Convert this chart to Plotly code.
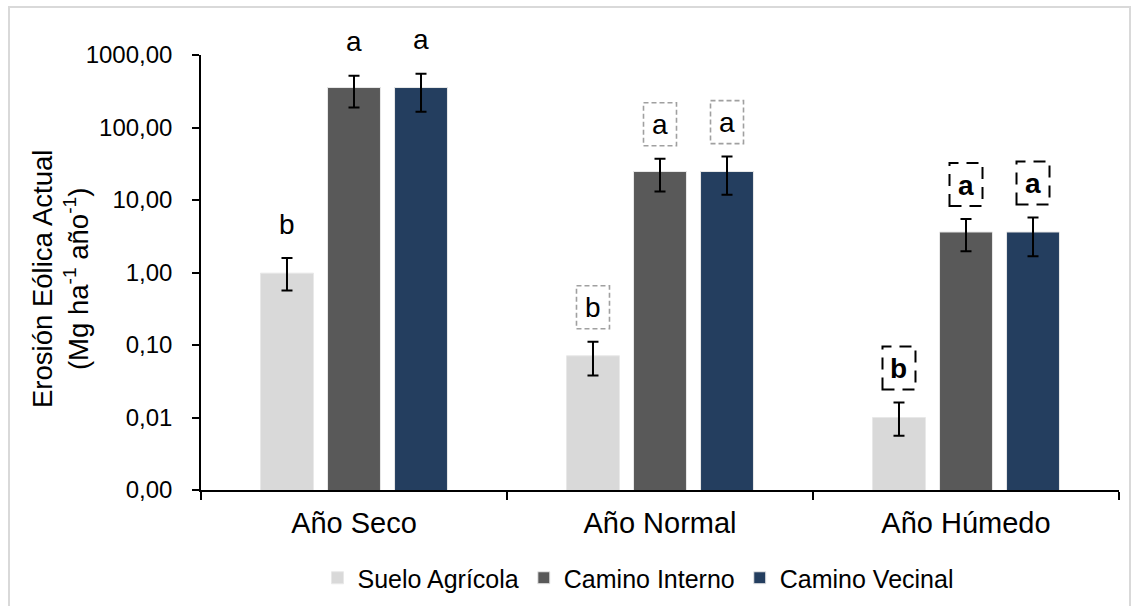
import math
import plotly.graph_objects as go

categories = ["Año Seco", "Año Normal", "Año Húmedo"]
series_names = ["Suelo Agrícola", "Camino Interno", "Camino Vecinal"]
series_colors = ["#d9d9d9", "#595959", "#243e5f"]

suelo_vals = [0.98, 0.071, 0.010]
suelo_plus = [0.60, 0.040, 0.0061]
suelo_minus = [0.415, 0.033, 0.0044]

interno_vals = [356, 24.7, 3.62]
interno_plus = [161, 12.3, 1.84]
interno_minus = [167, 11.6, 1.66]

vecinal_vals = [356, 24.7, 3.62]
vecinal_plus = [195, 15.0, 2.10]
vecinal_minus = [191, 12.9, 1.95]

# significance letters per series (rows) and category (cols)
letters = [["b", "b", "b"], ["a", "a", "a"], ["a", "a", "a"]]
# letter style per category: plain, gray dashed box, bold black dashed box
letter_style = ["plain", "gray", "bold"]

y_tickvals = [0.001, 0.01, 0.1, 1, 10, 100, 1000]
y_ticktext = ["0,00", "0,01", "0,10", "1,00", "10,00", "100,00", "1000,00"]
y_title = "Erosión Eólica Actual<br>(Mg ha<sup>-1</sup> año<sup>-1</sup>)"

FONT = "Liberation Sans, Arial, sans-serif"
BARGAP = 0.343
BARGROUPGAP = 0.21
ML, MR, MT, MB = 201, 12, 55, 116
W, H = 1131, 606
PW, PH = W - ML - MR, H - MT - MB

vals = [suelo_vals, interno_vals, vecinal_vals]
plus = [suelo_plus, interno_plus, vecinal_plus]
minus = [suelo_minus, interno_minus, vecinal_minus]

fig = go.Figure()
for i, name in enumerate(series_names):
    fig.add_trace(go.Bar(
        name=name, x=categories, y=vals[i],
        marker=dict(color=series_colors[i], line=dict(color="#e8e8e8", width=1)),
        error_y=dict(type="data", symmetric=False, array=plus[i], arrayminus=minus[i],
                     color="black", thickness=2, width=5.5),
    ))

slot = (1 - BARGAP) / len(series_names)
annotations = []
shapes = []
LETTER_SHIFT = 34
for i in range(len(series_names)):
    for j in range(len(categories)):
        xpos = j + (i - 1) * slot
        top = vals[i][j] + plus[i][j]
        style = letter_style[j]
        txt = letters[i][j]
        if style == "bold":
            txt = "<b>" + txt + "</b>"
        annotations.append(dict(
            x=xpos, y=math.log10(top), xref="x", yref="y", text=txt,
            showarrow=False, yanchor="middle", xanchor="center", yshift=LETTER_SHIFT,
            font=dict(family=FONT, size=28, color="black"),
        ))
        if style in ("gray", "bold"):
            shapes.append(dict(
                type="rect", xref="x", yref="y", xsizemode="pixel", ysizemode="pixel",
                xanchor=xpos, yanchor=top, x0=-16.5, x1=16.5,
                y0=LETTER_SHIFT - 21, y1=LETTER_SHIFT + 22,
                line=dict(color="#a0a0a0" if style == "gray" else "black",
                          width=1.6 if style == "gray" else 2,
                          dash="5px,3px" if style == "gray" else "12px,8px"),
                fillcolor="rgba(0,0,0,0)",
            ))

# y-axis title as rotated annotation
annotations.append(dict(
    x=(60 - ML) / PW, y=(MT + PH - 279) / PH, xref="paper", yref="paper",
    text=y_title, textangle=-90, showarrow=False, xanchor="center", yanchor="middle",
    font=dict(family=FONT, size=27.5, color="black"),
))

# outer light border of the chart area
shapes.append(dict(type="rect", xref="paper", yref="paper",
                   x0=(9 - ML) / PW, x1=(1130 - ML) / PW,
                   y0=(MT + PH - 612) / PH, y1=(MT + PH - 7) / PH,
                   line=dict(color="#d9d9d9", width=2), fillcolor="rgba(0,0,0,0)"))

fig.update_layout(
    width=W, height=H,
    margin=dict(l=ML, r=MR, t=MT, b=MB, autoexpand=False),
    paper_bgcolor="white", plot_bgcolor="white",
    barmode="group", bargap=BARGAP, bargroupgap=BARGROUPGAP,
    font=dict(family=FONT, color="black"),
    showlegend=True,
    legend=dict(orientation="h", x=(638 - ML) / PW, xanchor="center",
                y=(MT + PH - 578) / PH, yanchor="middle",
                font=dict(family=FONT, size=25, color="black"), traceorder="normal",
                itemwidth=30),
    annotations=annotations,
    shapes=shapes,
)
fig.update_yaxes(
    type="log", range=[-3, 3], tickvals=y_tickvals, ticktext=y_ticktext,
    showgrid=False, zeroline=False, showline=True, linecolor="black", linewidth=1.5,
    ticks="outside", ticklen=7, tickwidth=1.5, tickcolor="black",
    tickfont=dict(family=FONT, size=24, color="black"),
    ticklabelposition="outside", ticklabelstandoff=15,
    automargin=False,
)
fig.update_xaxes(
    showgrid=False, showline=True, linecolor="black", linewidth=1.5,
    ticks="outside", ticklen=8, tickwidth=1.5, tickcolor="black", tickson="boundaries",
    tickfont=dict(family=FONT, size=29, color="black"),
    ticklabelposition="outside", ticklabelstandoff=6,
    automargin=False,
)

fig.write_html("out.html", config={"displayModeBar": False},
               post_script="document.body.style.margin='0';document.body.style.padding='0';")
